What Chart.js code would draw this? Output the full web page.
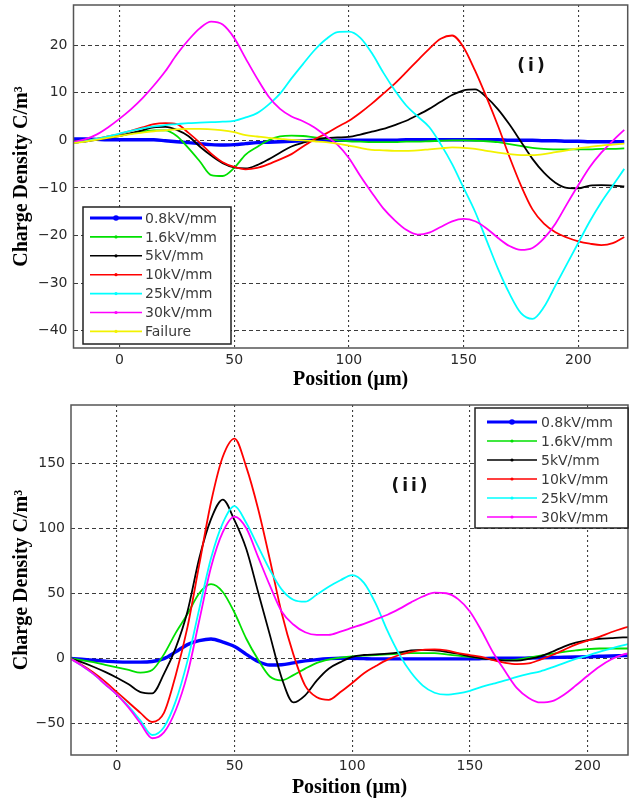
<!DOCTYPE html>
<html>
<head>
<meta charset="utf-8">
<script src="https://cdn.jsdelivr.net/npm/chart.js@4.4.1/dist/chart.umd.min.js"></script>
<style>
  html, body { margin: 0; padding: 0; background: #fff; }
  .panel { position: absolute; left: 0; width: 629px; }
  #panelTop { top: 0; height: 400px; }
  #panelBottom { top: 400px; height: 402px; }
</style>
</head>
<body>
<div class="panel" id="panelTop"><canvas id="chartTop"></canvas></div>
<div class="panel" id="panelBottom"><canvas id="chartBottom"></canvas></div>
<script>
// positions along the sample (µm)
const positions = [-20, -15, -10, -5, 0, 5, 10, 15, 20, 25, 30, 35, 40, 45, 50, 55, 60, 65, 70, 75,
  80, 85, 90, 95, 100, 105, 110, 115, 120, 125, 130, 135, 140, 145, 150, 155, 160, 165, 170, 175,
  180, 185, 190, 195, 200, 205, 210, 215, 220];

const fieldLabels = ['0.8kV/mm', '1.6kV/mm', '5kV/mm', '10kV/mm', '25kV/mm', '30kV/mm', 'Failure'];
const seriesColors = ['#0000ff', '#00e000', '#000000', '#ff0000', '#00ffff', '#ff00ff', '#f2f200'];

const xTicks = [0, 50, 100, 150, 200];
const topYTicks = [-40, -30, -20, -10, 0, 10, 20];
const bottomYTicks = [-50, 0, 50, 100, 150];

// panel (i)
const topBlue = [0.3, 0.3, 0.2, 0.1, 0.1, 0.1, 0.1, 0.1, -0.1, -0.3, -0.5, -0.7, -0.9, -1.0, -0.9, -0.7, -0.5, -0.4, -0.3, -0.2,
  -0.1, 0, 0, 0, 0, 0, 0, 0, 0, 0.1, 0.1, 0.1, 0.1, 0.1, 0.1, 0.1, 0.1, 0.1, 0, 0,
  0, -0.1, -0.1, -0.2, -0.2, -0.3, -0.3, -0.3, -0.3];
const topGreen = [-0.3, -0.1, 0.2, 0.6, 1.0, 1.4, 1.8, 2.1, 2.1, 0.9, -1.6, -4.4, -7.3, -7.5, -5.8, -3.0, -1.4, 0.0, 0.8, 1.0,
  0.9, 0.6, 0.3, 0.0, -0.2, -0.3, -0.4, -0.4, -0.4, -0.3, -0.3, -0.2, -0.1, 0, 0, -0.1, -0.2, -0.4, -0.8, -1.2,
  -1.6, -1.8, -1.9, -1.9, -1.9, -1.9, -1.8, -1.8, -1.7];
const topBlack = [-0.5, -0.3, 0.1, 0.5, 0.9, 1.5, 2.1, 2.7, 2.8, 2.2, 0.9, -1.3, -3.2, -4.8, -5.7, -5.9, -5.2, -4.0, -2.6, -1.3,
  -0.5, 0.1, 0.5, 0.6, 0.7, 1.2, 1.8, 2.4, 3.2, 4.1, 5.3, 6.6, 8.1, 9.5, 10.5, 10.7, 9.0, 6.5, 3.3, -0.3,
  -3.9, -6.8, -8.9, -10.0, -10.1, -9.5, -9.4, -9.5, -9.7];
const topRed = [-0.5, -0.2, 0.3, 0.8, 1.3, 2.0, 2.7, 3.4, 3.6, 3.4, 1.6, -0.5, -2.8, -4.6, -5.6, -6.1, -5.8, -5.0, -4.0, -2.9,
  -1.3, 0.2, 1.4, 2.8, 4.1, 5.8, 7.7, 9.8, 11.9, 14.3, 16.8, 19.2, 21.3, 22.0, 19.5, 14.6, 9.0, 3.0, -3.5, -9.5,
  -14.5, -17.5, -19.3, -20.4, -21.2, -21.7, -22.0, -21.6, -20.3];
const topCyan = [-0.5, -0.2, 0.3, 0.8, 1.4, 2.0, 2.5, 2.9, 3.2, 3.4, 3.6, 3.7, 3.8, 3.9, 4.1, 4.8, 5.7, 7.5, 9.8, 13.0,
  16.0, 18.9, 21.2, 22.7, 22.8, 21.5, 18.3, 14.2, 10.5, 7.3, 5.0, 2.8, -0.8, -5.0, -10.0, -15.0, -21.0, -27.0, -32.2, -36.3,
  -37.5, -35.0, -30.5, -26.0, -21.5, -17.0, -13.0, -9.5, -6.0];
const topMagenta = [-0.3, 0.2, 1.2, 2.7, 4.5, 6.5, 8.8, 11.5, 14.5, 18.0, 21.0, 23.5, 24.9, 24.3, 21.5, 17.2, 13.0, 9.2, 6.6, 5.0,
  4.0, 2.7, 0.9, -0.9, -3.7, -7.5, -11.0, -14.3, -16.8, -18.8, -19.8, -19.4, -18.2, -17.0, -16.5, -17.0, -18.5, -20.5, -22.2, -23.0,
  -22.6, -20.6, -17.5, -13.4, -9.4, -5.6, -2.6, -0.1, 2.2];
const topYellow = [-0.6, -0.3, 0.1, 0.5, 0.9, 1.3, 1.6, 1.9, 2.1, 2.3, 2.4, 2.4, 2.3, 2.1, 1.7, 1.1, 0.8, 0.5, 0.3, 0.1,
  0, -0.2, -0.4, -0.7, -1.1, -1.6, -2.0, -2.1, -2.2, -2.2, -2.1, -1.9, -1.7, -1.5, -1.6, -1.8, -2.2, -2.6, -2.9, -3.1,
  -3.1, -2.9, -2.5, -2.1, -1.7, -1.4, -1.1, -0.9, -0.7];

// panel (ii)
const bottomBlue = [0, -0.8, -1.5, -2.2, -2.8, -3.0, -3.0, -2.5, -0.3, 4.9, 10.5, 13.5, 14.8, 12.5, 9.0, 3.0, -2.5, -5.2, -5.0, -3.5,
  -2.0, -1.0, -0.3, 0, 0, -0.3, -0.5, -0.5, -0.5, -0.5, -0.5, -0.5, -0.5, -0.5, -0.5, -0.3, 0, 0, 0, 0.2,
  0.4, 0.6, 0.8, 1.0, 1.2, 1.5, 1.8, 2.0, 2.2];
const bottomGreen = [0, -1.5, -3, -5, -7, -9, -11, -9, 3, 19.5, 34, 50, 57, 51, 35, 15, -1, -14, -17, -13,
  -8, -3.5, -1, 0.5, 1.5, 2, 2.5, 3, 3.5, 4, 4, 4, 3, 2, 1, 0, -1, -1.5, -1, 0.5,
  2, 3.5, 5, 6, 7, 7.5, 7.5, 7.5, 7.5];
const bottomBlack = [0, -3, -6.5, -10.5, -15, -20, -26, -27, -12, 8, 36, 77, 107, 122, 106, 84, 51, 18, -15, -34,
  -28.5, -17, -8, -3, 1, 2.5, 3, 3.5, 4.5, 6, 6.5, 6, 5, 3.5, 1.5, 0, -1, -1.8, -1.8, -0.5,
  1.5, 5, 9, 12, 14, 15, 15.5, 16, 16];
const bottomRed = [0, -5, -11, -18, -26, -34, -42, -49, -42, -13, 24, 72, 120, 155, 169, 147, 115, 76, 35, 3,
  -21, -30, -32, -26, -19, -11.5, -6, -1, 2.5, 5, 6.5, 6.8, 6, 4, 2.5, 1, -1.5, -3.5, -4.5, -4,
  -1, 2.5, 6.5, 10.5, 13.5, 16.5, 20, 23, 25.5];
const bottomCyan = [0, -5.5, -12, -20, -28, -37, -48, -59, -53, -33, -2, 38, 77, 104, 117, 104, 86, 68, 53, 45,
  43.5, 49, 55, 60, 64, 58, 42, 21, 3, -11, -21, -26.5, -28, -27, -25, -22, -19.5, -17, -14.3, -12,
  -10, -7, -3.7, -0.5, 2, 5, 7.5, 10, 12];
const bottomMagenta = [0, -5.5, -12, -20, -28, -38, -50, -61.5, -57, -40, -12, 29, 70, 97, 109, 100, 78, 56, 36, 26,
  20, 18, 18, 20.5, 23.5, 26.5, 30, 33.5, 38, 43, 47.5, 50.5, 50, 45.5, 36, 21, 4, -10, -23, -30.5,
  -34, -33, -28, -21, -13.5, -6.5, -1, 2.8, 4.5];

const topSeries = [topBlue, topGreen, topBlack, topRed, topCyan, topMagenta, topYellow];
const bottomSeries = [bottomBlue, bottomGreen, bottomBlack, bottomRed, bottomCyan, bottomMagenta];

const tickFont = { family: '"DejaVu Sans", sans-serif', size: 14 };
const titleFont = { family: '"Liberation Serif", serif', size: 20, weight: 'bold' };
const minusLabel = (value) => (value < 0 ? '\u2212' + Math.abs(value) : String(value));

// frame, legend box and panel tag
const decorations = {
    id: 'decorations',
    afterDraw(chart, args, opts) {
        const { ctx, chartArea: area } = chart;
        ctx.save();

        ctx.strokeStyle = '#555';
        ctx.lineWidth = 1.5;
        ctx.strokeRect(area.left, area.top, area.right - area.left, area.bottom - area.top);

        const box = opts.legend;
        ctx.fillStyle = '#ffffff';
        ctx.fillRect(box.x, box.y, box.w, box.h);
        ctx.strokeStyle = '#222';
        ctx.lineWidth = 1.5;
        ctx.strokeRect(box.x, box.y, box.w, box.h);

        ctx.font = '14px "DejaVu Sans", sans-serif';
        ctx.textBaseline = 'middle';
        ctx.textAlign = 'left';
        chart.data.datasets.forEach((dataset, i) => {
            const y = box.y + box.first + i * box.step;
            const x1 = box.x + box.lineStart;
            const x2 = box.x + box.lineEnd;
            ctx.strokeStyle = dataset.borderColor;
            ctx.lineWidth = i === 0 ? 3 : 1.6;
            ctx.beginPath();
            ctx.moveTo(x1, y);
            ctx.lineTo(x2, y);
            ctx.stroke();
            ctx.fillStyle = dataset.borderColor;
            ctx.beginPath();
            ctx.arc((x1 + x2) / 2, y, i === 0 ? 2.8 : 1.6, 0, Math.PI * 2);
            ctx.fill();
            ctx.fillStyle = '#3a3a3a';
            ctx.fillText(dataset.label, box.x + box.textStart, y + 1);
        });

        const tag = opts.tag;
        ctx.font = 'bold 17px "DejaVu Sans", sans-serif';
        ctx.letterSpacing = '3px';
        ctx.fillStyle = '#111';
        ctx.textAlign = 'center';
        ctx.fillText(tag.text, chart.scales.x.getPixelForValue(tag.x), chart.scales.y.getPixelForValue(tag.y));
        ctx.restore();
    },
};

const buildChart = (canvasId, series, cfg) => {
    const canvas = document.getElementById(canvasId);

    new Chart(canvas, {
        type: 'line',
        data: {
            datasets: series.map((values, i) => ({
                label: fieldLabels[i],
                data: positions.map((x, j) => ({ x, y: values[j] })),
                borderColor: seriesColors[i],
                borderWidth: i === 0 ? 3.4 : 1.8,
                pointRadius: 0,
                cubicInterpolationMode: 'monotone',
                order: series.length - i,
            })),
        },
        options: {
            responsive: true,
            maintainAspectRatio: false,
            animation: false,
            events: [],
            layout: {
                padding: { top: 5, right: cfg.padRight, left: 0, bottom: 0 },
            },
            plugins: {
                legend: { display: false },
                tooltip: { enabled: false },
                decorations: { legend: cfg.legend, tag: cfg.tag },
            },
            scales: {
                x: {
                    type: 'linear',
                    min: cfg.xMin,
                    max: cfg.xMax,
                    afterBuildTicks: (scale) => {
                        scale.ticks = xTicks.map((value) => ({ value }));
                    },
                    afterFit: (scale) => {
                        scale.height = cfg.xAxisHeight;
                        scale.paddingLeft = 0;
                        scale.paddingRight = 0;
                    },
                    grid: { color: '#3c3c3c', lineWidth: 1.1, drawTicks: false },
                    border: { display: false, dash: [2, 3] },
                    ticks: {
                        padding: cfg.xTickPad,
                        color: '#2a2a2a',
                        font: tickFont,
                        maxRotation: 0,
                        autoSkip: false,
                        callback: minusLabel,
                    },
                    title: {
                        display: true,
                        text: 'Position (μm)',
                        color: '#000',
                        font: titleFont,
                        padding: { top: 0, bottom: cfg.xTitlePad },
                    },
                },
                y: {
                    min: cfg.yMin,
                    max: cfg.yMax,
                    afterBuildTicks: (scale) => {
                        scale.ticks = cfg.yTicks.map((value) => ({ value }));
                    },
                    afterFit: (scale) => {
                        scale.width = cfg.yAxisWidth;
                        scale.paddingTop = 0;
                        scale.paddingBottom = 0;
                    },
                    grid: { color: '#3c3c3c', lineWidth: 1, drawTicks: false },
                    border: { display: false, dash: [4, 3] },
                    ticks: {
                        padding: 6,
                        color: '#2a2a2a',
                        font: tickFont,
                        autoSkip: false,
                        callback: minusLabel,
                    },
                    title: {
                        display: true,
                        text: 'Charge Density C/m³',
                        color: '#000',
                        font: titleFont,
                        padding: { top: 10, bottom: 0 },
                    },
                },
            },
        },
        plugins: [decorations],
    });
};

buildChart('chartTop', topSeries, {
    xMin: -20, xMax: 221.5, yMin: -43.6, yMax: 28.4, yTicks: topYTicks,
    padRight: 1.3, xAxisHeight: 52, yAxisWidth: 73.5, xTickPad: 4, xTitlePad: 8,
    legend: { x: 83, y: 207, w: 148, h: 137, first: 11, step: 18.9, lineStart: 7, lineEnd: 59, textStart: 62 },
    tag: { text: '(i)', x: 180, y: 15.4 },
});

buildChart('chartBottom', bottomSeries, {
    xMin: -19.5, xMax: 217.2, yMin: -74.4, yMax: 194.8, yTicks: bottomYTicks,
    padRight: 1, xAxisHeight: 47, yAxisWidth: 71, xTickPad: 3, xTitlePad: 2,
    legend: { x: 475, y: 8, w: 153, h: 120, first: 14, step: 19, lineStart: 12, lineEnd: 62, textStart: 66 },
    tag: { text: '(ii)', x: 125, y: 132 },
});
</script>
</body>
</html>
